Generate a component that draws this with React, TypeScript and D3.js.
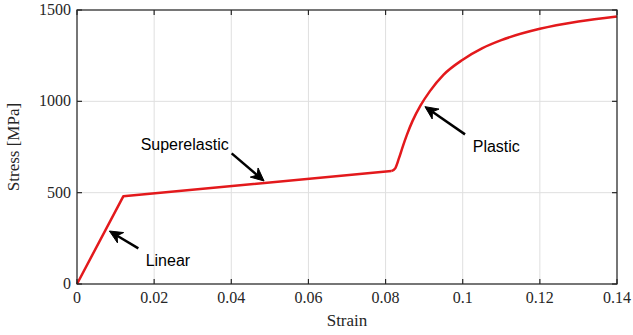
import React from "react";
import * as d3 from "d3";

const strain = [0, 0.012, 0.0815, 0.0825, 0.0835, 0.0845, 0.0855, 0.087, 0.089, 0.0915, 0.095, 0.1, 0.105, 0.11, 0.12, 0.13, 0.14];
const stress = [0, 480, 618, 633, 690, 755, 815, 893, 975, 1056, 1145, 1228, 1290, 1335, 1397, 1437, 1465];
const xTicks = [0, 0.02, 0.04, 0.06, 0.08, 0.1, 0.12, 0.14];
const yTicks = [0, 500, 1000, 1500];
const annLabels = ["Linear", "Superelastic", "Plastic"];
const annTip = [[0.0084, 290], [0.0485, 564], [0.0902, 971]];
const annTail = [[0.0159, 195], [0.0401, 715], [0.1006, 819]];
const annText = [[0.0178, 99], [0.0165, 733], [0.1026, 724]];

const W = 633, H = 335;
const L = 77, R = 617, T = 10, B = 284;

export default function App() {
  const x = d3.scaleLinear().domain([0, 0.14]).range([L, R]);
  const y = d3.scaleLinear().domain([0, 1500]).range([B, T]);
  const pts: [number, number][] = strain.map((s, i) => [s, stress[i]]);
  const linPart = pts.slice(0, 3);
  const plastic = pts.slice(2);
  const lineLin = d3.line<[number, number]>().x(d => x(d[0])).y(d => y(d[1]));
  const lineCurve = d3.line<[number, number]>().x(d => x(d[0])).y(d => y(d[1])).curve(d3.curveMonotoneX);
  const serif = "'Liberation Serif', 'Times New Roman', serif";
  const sans = "'Liberation Sans', Arial, sans-serif";
  const axisColor = "#262626";
  const tk = 5;

  const arrows = annLabels.map((lab, i) => {
    const tx = x(annTip[i][0]), ty = y(annTip[i][1]);
    const sx = x(annTail[i][0]), sy = y(annTail[i][1]);
    const dx = tx - sx, dy = ty - sy;
    const len = Math.hypot(dx, dy);
    const ux = dx / len, uy = dy / len;
    const px = -uy, py = ux;
    const hl = 13, hw = 6;
    const bx = tx - ux * hl, by = ty - uy * hl;
    const nx = tx - ux * hl * 0.7, ny = ty - uy * hl * 0.7;
    const head = `M${tx},${ty} L${bx + px * hw},${by + py * hw} L${nx},${ny} L${bx - px * hw},${by - py * hw} Z`;
    return (
      <g key={lab}>
        <line x1={sx} y1={sy} x2={nx} y2={ny} stroke="black" strokeWidth={2.5} />
        <path d={head} fill="black" stroke="black" strokeWidth={1} strokeLinejoin="miter" />
        <text x={x(annText[i][0])} y={y(annText[i][1])} fontFamily={sans} fontSize={16} fill="black">{lab}</text>
      </g>
    );
  });

  return (
    <svg width={W} height={H} style={{ position: "absolute", left: 0, top: 0, background: "white" }}>
      <rect x={0} y={0} width={W} height={H} fill="white" />
      {xTicks.map(t => (
        <line key={"gx" + t} x1={x(t)} x2={x(t)} y1={T} y2={B} stroke="#dfdfdf" strokeWidth={1} />
      ))}
      {yTicks.map(t => (
        <line key={"gy" + t} x1={L} x2={R} y1={y(t)} y2={y(t)} stroke="#dfdfdf" strokeWidth={1} />
      ))}
      <path d={lineLin(linPart) || ""} fill="none" stroke="#e3191c" strokeWidth={2.5} strokeLinejoin="round" />
      <path d={lineCurve(plastic) || ""} fill="none" stroke="#e3191c" strokeWidth={2.5} strokeLinejoin="round" />
      <rect x={L} y={T} width={R - L} height={B - T} fill="none" stroke={axisColor} strokeWidth={1.2} />
      {xTicks.map(t => (
        <g key={"tx" + t}>
          <line x1={x(t)} x2={x(t)} y1={B} y2={B - tk} stroke={axisColor} strokeWidth={1.2} />
          <line x1={x(t)} x2={x(t)} y1={T} y2={T + tk} stroke={axisColor} strokeWidth={1.2} />
          <text x={x(t)} y={B + 19} textAnchor="middle" fontFamily={serif} fontSize={16} fill="#262626">{d3.format("~g")(t)}</text>
        </g>
      ))}
      {yTicks.map(t => (
        <g key={"ty" + t}>
          <line x1={L} x2={L + tk} y1={y(t)} y2={y(t)} stroke={axisColor} strokeWidth={1.2} />
          <line x1={R} x2={R - tk} y1={y(t)} y2={y(t)} stroke={axisColor} strokeWidth={1.2} />
          <text x={L - 6} y={y(t) + 5} textAnchor="end" fontFamily={serif} fontSize={16} fill="#262626">{t}</text>
        </g>
      ))}
      <text x={(L + R) / 2} y={326} textAnchor="middle" fontFamily={serif} fontSize={17} fill="#262626">Strain</text>
      <text transform={`translate(19,${(T + B) / 2}) rotate(-90)`} textAnchor="middle" fontFamily={serif} fontSize={17} fill="#262626">Stress [MPa]</text>
      {arrows}
    </svg>
  );
}
